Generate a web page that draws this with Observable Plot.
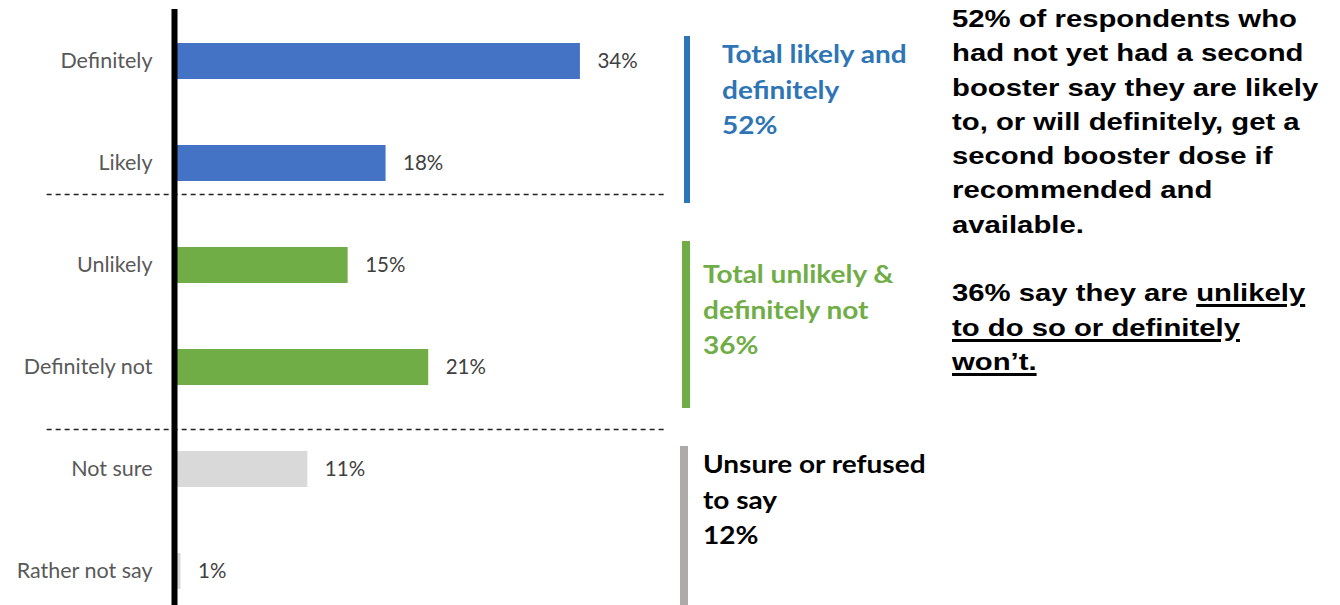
<!DOCTYPE html>
<html>
<head>
<meta charset="utf-8">
<script src="https://cdn.jsdelivr.net/npm/d3@7"></script>
<script src="https://cdn.jsdelivr.net/npm/@observablehq/plot@0.6"></script>
<style>
  html, body { margin: 0; padding: 0; background: #fff; }
  #wrap { position: relative; width: 1340px; height: 605px; overflow: hidden; }
  #chart { position: absolute; left: 0; top: 0; }
  .gbar { position: absolute; }
  .gtext { position: absolute; font-family: Lato, "Open Sans", sans-serif; font-weight: 700; font-size: 25px; line-height: 35.7px; white-space: nowrap; transform: scaleX(1.12); transform-origin: left top; }
  #note { position: absolute; left: 952px; top: 2px; font-family: "Liberation Sans", Arial, sans-serif; font-weight: 700; font-size: 24px; line-height: 34.3px; color: #000; white-space: nowrap; transform: scaleX(1.22); transform-origin: left top; }
  #note u { text-decoration-thickness: 2.5px; text-underline-offset: 3px; }
</style>
</head>
<body>
<div id="wrap">
  <div id="chart"></div>
  <div class="gbar" style="left:684px; top:36px; width:6px; height:167px; background:#2E75B6;"></div>
  <div class="gtext" id="g1" style="left:722px; top:36px; color:#2E75B6;"></div>
  <div class="gbar" style="left:682px; top:241px; width:8px; height:167px; background:#70AD47;"></div>
  <div class="gtext" id="g2" style="left:703px; top:256px; color:#70AD47;"></div>
  <div class="gbar" style="left:680px; top:446px; width:8px; height:159px; background:#AEAAAA;"></div>
  <div class="gtext" id="g3" style="left:703px; top:446px; color:#000;"></div>
  <div id="note"></div>
</div>
<script>
const categories = ["Definitely", "Likely", "Unlikely", "Definitely not", "Not sure", "Rather not say"];
const values = [34, 17.6, 14.4, 21.2, 11, 0.3];
const valueLabels = ["34%", "18%", "15%", "21%", "11%", "1%"];
const barColors = ["#4472C4", "#4472C4", "#70AD47", "#70AD47", "#D9D9D9", "#D9D9D9"];

const groupLabels = [
  ["Total likely and", "definitely", "52%"],
  ["Total unlikely &", "definitely not", "36%"],
  ["Unsure or refused", "to say", "12%"]
];
const noteLines = [
  "52% of respondents who",
  "had not yet had a second",
  "booster say they are likely",
  "to, or will definitely, get a",
  "second booster dose if",
  "recommended and",
  "available."
];
const note2Plain = "36% say they are ";
const note2Under = ["unlikely", "to do so or definitely", "won\u2019t."];

const data = categories.map((c, i) => ({category: c, value: values[i], label: valueLabels[i], color: barColors[i]}));

const chart = Plot.plot({
  width: 1340,
  height: 605,
  marginLeft: 177,
  marginRight: 0,
  marginTop: 9,
  marginBottom: 0,
  x: {domain: [0, 100], range: [177, 1362], axis: null},
  y: {domain: categories, range: [8.8, 623.2], paddingInner: 0.65, paddingOuter: 0.325, align: 0.5, label: null},
  style: {fontFamily: "Lato, 'Open Sans', sans-serif"},
  marks: [
    Plot.barX(data, {x: "value", y: "category", fill: "color"}),
    Plot.text(data, {x: "value", y: "category", text: "label", textAnchor: "start", dx: 17, fontSize: 20.5, fill: "#404040"}),
    Plot.ruleY(["Likely"], {y: d => d, dy: 31, x1: -11, x2: 41.4, stroke: "#222", strokeWidth: 1.3, strokeDasharray: "5,4"}),
    Plot.ruleY(["Definitely not"], {y: d => d, dy: 62, x1: -11, x2: 41.2, stroke: "#222", strokeWidth: 1.3, strokeDasharray: "5,4"}),
    Plot.ruleX([0], {stroke: "#000", strokeWidth: 6, dx: -3}),
    Plot.axisY({tickSize: 0, tickPadding: 25, fontSize: 21.5, color: "#595959", label: null})
  ]
});
document.getElementById("chart").appendChild(chart);

["g1", "g2", "g3"].forEach((id, i) => {
  document.getElementById(id).innerHTML = groupLabels[i].join("<br>");
});
document.getElementById("note").innerHTML =
  noteLines.join("<br>") + "<br><br>" + note2Plain + "<u>" + note2Under.join("</u><br><u>") + "</u>";
</script>
</body>
</html>
